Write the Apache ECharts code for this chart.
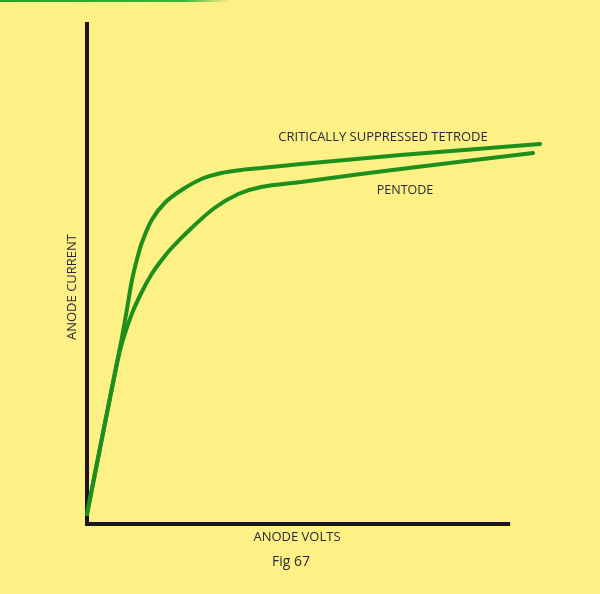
<!DOCTYPE html>
<html>
<head>
<meta charset="utf-8">
<script src="https://cdn.jsdelivr.net/npm/echarts@6/dist/echarts.min.js"></script>
<style>
html,body{margin:0;padding:0;background:#fdf084;}
#c{width:600px;height:594px;}
</style>
</head>
<body>
<div id="c"></div>
<script>
// Data in arbitrary units (anode volts, anode current)
var tetrode = [[0,10],[30,161],[35,186],[40,214],[45,243],[50,264],[55,281],[65,304],[78,321],[95,334],[115,345],[135,351],[155,354],[175,356],[215,360],[315,369],[455,380]];
var pentode = [[0,10],[30,160],[36,184],[45,210],[55,232],[65,250],[75,264],[85,276],[105,296],[128,316],[152,330],[175,337],[215,342],[275,350],[315,355],[448,371]];
var xAxisLine = [[-2,0],[425,0]];
var yAxisLine = [[0,0],[0,502]];
var xMax = 460, yMax = 502;

var green = '#1c8f1c';
var ink = '#2a2838';
var chart = echarts.init(document.getElementById('c'), null, {renderer:'canvas'});
chart.setOption({
  backgroundColor: '#fdf084',
  animation: false,
  grid: {left: 85, top: 22, right: 55, bottom: 70},
  xAxis: {type:'value', min:-2, max:xMax, show:false},
  yAxis: {type:'value', min:0, max:yMax, show:false},
  series: [
    {type:'line', data:xAxisLine, symbol:'none', lineStyle:{color:'#1b1522', width:4}, silent:true, clip:false},
    {type:'line', data:yAxisLine, symbol:'none', lineStyle:{color:'#1b1522', width:4}, silent:true, clip:false},
    {name:'PENTODE', type:'line', data:pentode, symbol:'none', smooth:0.3, lineStyle:{color:green, width:4, cap:'round'}, clip:false},
    {name:'CRITICALLY SUPPRESSED TETRODE', type:'line', data:tetrode, symbol:'none', smooth:0.3, lineStyle:{color:green, width:4, cap:'round'}, clip:false}
  ],
  graphic: [
    {type:'rect', left:0, top:0, shape:{width:230, height:2}, style:{fill:new echarts.graphic.LinearGradient(0,0,1,0,[{offset:0,color:'#22a322'},{offset:0.8,color:'#3cb33c'},{offset:1,color:'rgba(60,180,60,0)'}])}},
    {type:'text', x:72, y:287, rotation:Math.PI/2, style:{text:'ANODE CURRENT', font:'13px "Open Sans"', fill:ink, align:'center', verticalAlign:'middle'}},
    {type:'text', x:297, y:537, style:{text:'ANODE VOLTS', font:'13px "Open Sans"', fill:ink, align:'center', verticalAlign:'middle'}},
    {type:'text', x:291, y:562, style:{text:'Fig 67', font:'14px "Open Sans"', fill:ink, align:'center', verticalAlign:'middle'}},
    {type:'text', x:383, y:137, style:{text:'CRITICALLY SUPPRESSED TETRODE', font:'13px "Open Sans"', fill:ink, align:'center', verticalAlign:'middle'}},
    {type:'text', x:405, y:190, style:{text:'PENTODE', font:'12.5px "Open Sans"', fill:ink, align:'center', verticalAlign:'middle'}}
  ]
});
</script>
</body>
</html>
